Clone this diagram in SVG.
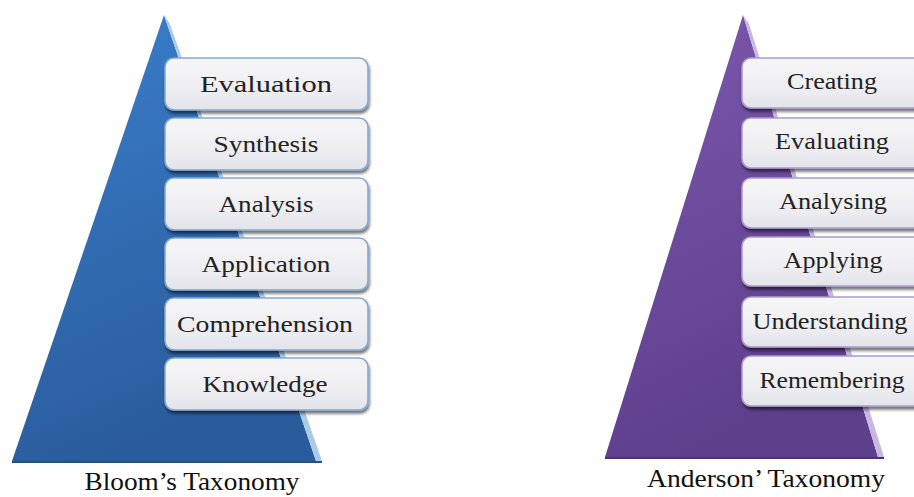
<svg xmlns="http://www.w3.org/2000/svg" width="914" height="497" viewBox="0 0 914 497">
<defs>
<linearGradient id="gBlue" x1="0" y1="0" x2="0.3" y2="1">
<stop offset="0" stop-color="#3a7fcc"/>
<stop offset="1" stop-color="#2a5c9c"/>
</linearGradient>
<linearGradient id="gPurple" x1="0" y1="0" x2="0.3" y2="1">
<stop offset="0" stop-color="#7c58ae"/>
<stop offset="1" stop-color="#5e3f8c"/>
</linearGradient>
<linearGradient id="gBox" x1="0" y1="0" x2="0" y2="1">
<stop offset="0" stop-color="#f6f6f8"/>
<stop offset="0.6" stop-color="#eeeef2"/>
<stop offset="1" stop-color="#e2e4ea"/>
</linearGradient>
<filter id="sh" x="-10%" y="-20%" width="125%" height="150%">
<feGaussianBlur in="SourceAlpha" stdDeviation="1.5"/>
<feOffset dx="1" dy="2.5" result="b"/>
<feComponentTransfer><feFuncA type="linear" slope="0.55"/></feComponentTransfer>
<feMerge><feMergeNode/><feMergeNode in="SourceGraphic"/></feMerge>
</filter>
</defs>
<style>
.boxB{fill:url(#gBox);stroke:#86a8cf;stroke-width:1.6;filter:url(#sh)}
.boxP{fill:url(#gBox);stroke:#ab9ccb;stroke-width:1.6;filter:url(#sh)}
.lbl{font-family:"Liberation Serif","Times New Roman",serif;font-size:23px;fill:#222;text-anchor:middle}
.cap{font-family:"Liberation Serif","Times New Roman",serif;font-size:26px;fill:#111;text-anchor:middle}
</style>
<rect width="914" height="497" fill="#ffffff"/>

<g id="bloom-pyramid">
<polygon points="164,15 12,461 316,461" fill="url(#gBlue)"/>
<polygon points="164,15 316,461 322,461 170,24" fill="#a9cbe8"/>
<line x1="12" y1="462" x2="322" y2="462" stroke="#24507f" stroke-width="2"/>
</g>
<g id="anderson-pyramid">
<polygon points="743,15 605,457 878,457" fill="url(#gPurple)"/>
<polygon points="743,15 878,457 884,457 749,24" fill="#c7b8e0"/>
<line x1="605" y1="458" x2="884" y2="458" stroke="#4c3373" stroke-width="2"/>
</g>

<g id="b-evaluation"><rect class="boxB" x="165" y="58" width="203" height="52" rx="9"/><text class="lbl" x="266" y="92" textLength="132" lengthAdjust="spacingAndGlyphs">Evaluation</text></g>
<g id="b-synthesis"><rect class="boxB" x="165" y="118" width="203" height="52" rx="9"/><text class="lbl" x="266" y="152" textLength="105" lengthAdjust="spacingAndGlyphs">Synthesis</text></g>
<g id="b-analysis"><rect class="boxB" x="165" y="178" width="203" height="52" rx="9"/><text class="lbl" x="266" y="212" textLength="95" lengthAdjust="spacingAndGlyphs">Analysis</text></g>
<g id="b-application"><rect class="boxB" x="165" y="238" width="203" height="52" rx="9"/><text class="lbl" x="266" y="272" textLength="129" lengthAdjust="spacingAndGlyphs">Application</text></g>
<g id="b-comprehension"><rect class="boxB" x="165" y="298" width="203" height="52" rx="9"/><text class="lbl" x="265" y="332" textLength="176" lengthAdjust="spacingAndGlyphs">Comprehension</text></g>
<g id="b-knowledge"><rect class="boxB" x="165" y="358" width="203" height="52" rx="9"/><text class="lbl" x="265" y="392" textLength="125" lengthAdjust="spacingAndGlyphs">Knowledge</text></g>

<g id="a-creating"><rect class="boxP" x="742" y="58" width="185" height="50" rx="9"/><text class="lbl" x="832" y="89" textLength="90" lengthAdjust="spacingAndGlyphs">Creating</text></g>
<g id="a-evaluating"><rect class="boxP" x="742" y="118" width="185" height="50" rx="9"/><text class="lbl" x="832" y="149" textLength="114" lengthAdjust="spacingAndGlyphs">Evaluating</text></g>
<g id="a-analysing"><rect class="boxP" x="742" y="178" width="185" height="50" rx="9"/><text class="lbl" x="833" y="209" textLength="108" lengthAdjust="spacingAndGlyphs">Analysing</text></g>
<g id="a-applying"><rect class="boxP" x="742" y="237" width="185" height="49" rx="9"/><text class="lbl" x="833" y="268" textLength="99" lengthAdjust="spacingAndGlyphs">Applying</text></g>
<g id="a-understanding"><rect class="boxP" x="742" y="297" width="185" height="50" rx="9"/><text class="lbl" x="830" y="329" textLength="155" lengthAdjust="spacingAndGlyphs">Understanding</text></g>
<g id="a-remembering"><rect class="boxP" x="742" y="356" width="185" height="50" rx="9"/><text class="lbl" x="832" y="388" textLength="145" lengthAdjust="spacingAndGlyphs">Remembering</text></g>

<g id="connectors"></g>

<g id="captions">
<text class="cap" x="192" y="490" textLength="215" lengthAdjust="spacingAndGlyphs">Bloom’s Taxonomy</text>
<text class="cap" x="766" y="487" textLength="238" lengthAdjust="spacingAndGlyphs">Anderson’ Taxonomy</text>
</g>
</svg>
